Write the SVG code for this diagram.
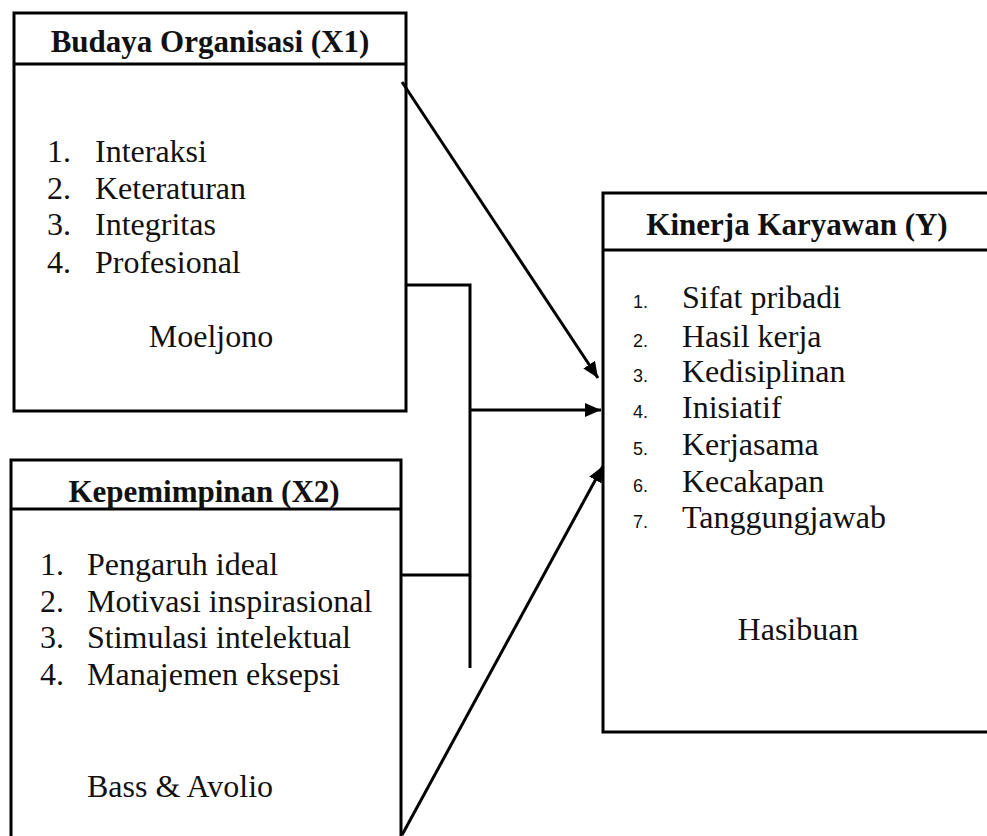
<svg xmlns="http://www.w3.org/2000/svg" width="987" height="836" viewBox="0 0 987 836">
<style>
.box{fill:#fff;stroke:#000;stroke-width:3}
.ln{stroke:#000;stroke-width:3;fill:none}
.t{font-family:"Liberation Serif","Times New Roman",serif;font-size:32px;fill:#111}
.h{font-family:"Liberation Serif","Times New Roman",serif;font-size:31px;font-weight:bold;fill:#111}
.n{font-family:"Liberation Sans",Arial,sans-serif;font-size:18px;fill:#111}
</style>
<defs>
<marker id="ah" markerUnits="userSpaceOnUse" markerWidth="18" markerHeight="14" refX="16" refY="7" orient="auto">
<path d="M0,0 L16,7 L0,14 Z" fill="#000"/>
</marker>
</defs>
<rect width="987" height="836" fill="#fff"/>
<g id="x1">
<rect class="box" x="14" y="13" width="392" height="398"/>
<line class="ln" x1="14" y1="64" x2="406" y2="64"/>
<text class="h" x="210" y="52" text-anchor="middle">Budaya Organisasi (X1)</text>
<text class="t" x="47" y="162">1.</text><text class="t" x="95" y="162">Interaksi</text>
<text class="t" x="47" y="199">2.</text><text class="t" x="95" y="199">Keteraturan</text>
<text class="t" x="47" y="235">3.</text><text class="t" x="95" y="235">Integritas</text>
<text class="t" x="47" y="273">4.</text><text class="t" x="95" y="273">Profesional</text>
<text class="t" x="211" y="347" text-anchor="middle">Moeljono</text>
</g>
<g id="x2">
<rect class="box" x="11" y="460" width="390" height="400"/>
<line class="ln" x1="11" y1="509" x2="401" y2="509"/>
<text class="h" x="204" y="502" text-anchor="middle">Kepemimpinan (X2)</text>
<text class="t" x="40" y="575">1.</text><text class="t" x="87" y="575">Pengaruh ideal</text>
<text class="t" x="40" y="612">2.</text><text class="t" x="87" y="612">Motivasi inspirasional</text>
<text class="t" x="40" y="648">3.</text><text class="t" x="87" y="648">Stimulasi intelektual</text>
<text class="t" x="40" y="685">4.</text><text class="t" x="87" y="685">Manajemen eksepsi</text>
<text class="t" x="87" y="797">Bass &amp; Avolio</text>
</g>
<g id="y">
<rect class="box" x="603" y="193" width="400" height="539"/>
<line class="ln" x1="603" y1="250" x2="1003" y2="250"/>
<text class="h" x="797" y="235" text-anchor="middle">Kinerja Karyawan (Y)</text>
<text class="n" x="633" y="308">1.</text><text class="t" x="682" y="308">Sifat pribadi</text>
<text class="n" x="633" y="347">2.</text><text class="t" x="682" y="347">Hasil kerja</text>
<text class="n" x="633" y="382">3.</text><text class="t" x="682" y="382">Kedisiplinan</text>
<text class="n" x="633" y="418">4.</text><text class="t" x="682" y="418">Inisiatif</text>
<text class="n" x="633" y="455">5.</text><text class="t" x="682" y="455">Kerjasama</text>
<text class="n" x="633" y="492">6.</text><text class="t" x="682" y="492">Kecakapan</text>
<text class="n" x="633" y="528">7.</text><text class="t" x="682" y="528">Tanggungjawab</text>
<text class="t" x="798" y="640" text-anchor="middle">Hasibuan</text>
</g>
<g id="connectors">
<line class="ln" x1="402" y1="82" x2="598" y2="378" marker-end="url(#ah)"/>
<polyline class="ln" points="406,285 470,285 470,668"/>
<line class="ln" x1="401" y1="575" x2="470" y2="575"/>
<line class="ln" x1="470" y1="410" x2="601" y2="410" marker-end="url(#ah)"/>
<line class="ln" x1="402" y1="835" x2="603" y2="466" marker-end="url(#ah)"/>
</g>
</svg>
